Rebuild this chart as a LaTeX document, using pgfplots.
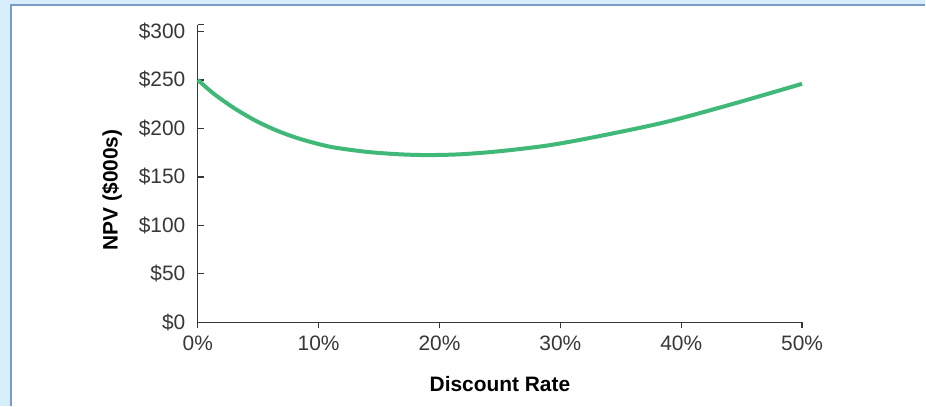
\documentclass[border=0pt]{standalone}
\usepackage{fontspec}
\setmainfont{Liberation Sans}
\usepackage{pgfplots}
\pgfplotsset{compat=1.18}

\definecolor{frameBg}{RGB}{214,238,250}
\definecolor{frameLine}{RGB}{122,155,200}
\definecolor{npvGreen}{RGB}{64,184,120}
\definecolor{tickGrey}{RGB}{55,55,55}

\begin{document}
\begin{tikzpicture}[x=1bp, y=1bp]
% panel background and frame
\fill[frameBg] (0,0) rectangle (926,406);
\fill[white] (11,0) rectangle (926,401);
\draw[frameLine, line width=2.2bp] (11,0) -- (11,401) -- (926,401);

\begin{axis}[
    at={(198bp,83.3bp)}, anchor=south west,
    scale only axis,
    width=605bp, height=298bp,
    xmin=0, xmax=50, ymin=0, ymax=307,
    enlargelimits=false,
    axis lines=left,
    axis line style={tickGrey, line width=1.3bp, -},
    xtick={0,10,20,30,40,50},
    xticklabels={0\%,10\%,20\%,30\%,40\%,50\%},
    ytick={0,50,100,150,200,250,300},
    yticklabels={\$0,\$50,\$100,\$150,\$200,\$250,\$300},
    extra y ticks={307}, extra y tick labels={},
    x tick style={tickGrey, line width=1.3bp},
    y tick style={tickGrey, line width=1.3bp},
    xtick align=outside, ytick align=inside,
    major tick length=6bp,
    tick label style={font=\fontsize{21}{24}\selectfont, text=tickGrey},
    xticklabel style={yshift=-4bp},
    yticklabel style={xshift=-9bp},
    xlabel={Discount Rate},
    ylabel={NPV (\$000s)},
    label style={font=\bfseries\fontsize{21}{24}\selectfont, text=black},
    xlabel style={at={(axis description cs:0.5,-0.209)}, anchor=center},
    ylabel style={at={(axis description cs:-0.142,0.445)}, anchor=center, rotate=0},
    clip=false,
]
\addplot[npvGreen, line width=4bp, smooth] table {
x     y
0     250
0.5   244.5
1.4   235
3.0   221
4.7   208.5
6.4   198.5
8.0   191
9.5   185.5
11.2  180.5
14.0  175.8
16.7  173.3
19.0  172.5
21.7  173.3
25.0  176.5
29.0  182.5
33.0  191.5
38.7  206.5
44.2  225
50.0  246
};
\end{axis}
\end{tikzpicture}
\end{document}
